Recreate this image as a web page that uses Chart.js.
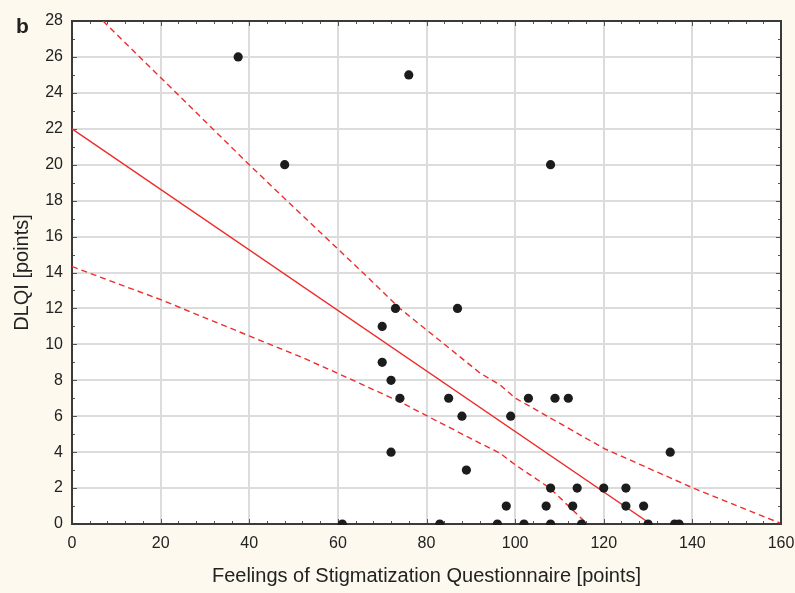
<!DOCTYPE html>
<html><head><meta charset="utf-8">
<script src="https://cdn.jsdelivr.net/npm/chart.js@4.4.1/dist/chart.umd.min.js"></script>
<style>html,body{margin:0;padding:0;background:#fdf9ee;} #wrap{width:795px;height:593px;position:relative;}</style>
</head><body><div id="wrap"><canvas id="c" width="795" height="593"></canvas></div>
<script>
// Patient data: FSQ score vs DLQI
const fsqScores  = [37.5, 48, 76, 108, 70, 73, 87, 70, 72, 74, 85, 88, 99, 72, 89, 103, 109, 112, 135, 61, 83, 96, 102, 108, 115, 130, 136, 137, 98, 107, 113, 125, 129, 108, 114, 120, 125];
const dlqiScores = [26,   20, 25, 20,  11, 12, 12, 9,  8,  7,  7,  6,  6,  4,  3,  7,   7,   7,   4,   0,  0,  0,  0,   0,   0,   0,   0,   0,   1,  1,   1,   1,   1,   2,   2,   2,   2];
// Regression line
const fitX = [0, 130.6];
const fitY = [22, 0];
// 95% confidence band
const upperX = [7, 40, 48.3, 67.3, 74, 92.1, 96.6, 100.1, 120.1, 140.2, 159.8];
const upperY = [28, 20, 18.04, 13.6, 12, 8.4, 7.74, 7.0, 4.2, 2.0, 0.05];
const lowerX = [0, 19.9, 40, 51.5, 60.5, 74, 92.1, 96.6, 100.1, 107.9, 116.1];
const lowerY = [14.33, 12.5, 10.47, 9.32, 8.33, 6.8, 4.49, 3.94, 3.28, 1.99, 0.04];
// Axes
const xTicks = [0, 20, 40, 60, 80, 100, 120, 140, 160];
const yTicks = [0, 2, 4, 6, 8, 10, 12, 14, 16, 18, 20, 22, 24, 26, 28];
const xTitle = 'Feelings of Stigmatization Questionnaire [points]';
const yTitle = 'DLQI [points]';
const panelLabel = 'b';

const zip = (xs, ys) => xs.map((x, i) => ({x: x, y: ys[i]}));
const RED = '#ee2c2c';
const FONT = "'Liberation Sans', Arial, sans-serif";

const framePlugin = {
  id: 'frame',
  beforeDraw(chart) {
    const {ctx, chartArea: a} = chart;
    ctx.save();
    ctx.fillStyle = '#fdf9ee';
    ctx.fillRect(0, 0, chart.width, chart.height);
    ctx.fillStyle = '#ffffff';
    ctx.fillRect(a.left, a.top, a.right - a.left, a.bottom - a.top);
    ctx.restore();
  },
  beforeDatasetsDraw(chart) {
    const {ctx, chartArea: a, scales} = chart;
    const xs = scales.x, ys = scales.y;
    ctx.save();
    ctx.strokeStyle = '#555555';
    ctx.lineWidth = 1;
    ctx.beginPath();
    for (let v = xTicks[0]; v <= xTicks[xTicks.length - 1]; v += 4) {
      const px = Math.round(xs.getPixelForValue(v)) + 0.5;
      const len = (v % 20 === 0) ? 5 : 3;
      ctx.moveTo(px, a.bottom); ctx.lineTo(px, a.bottom - len);
      ctx.moveTo(px, a.top); ctx.lineTo(px, a.top + len);
    }
    for (let v = yTicks[0]; v <= yTicks[yTicks.length - 1]; v += 1) {
      const py = Math.round(ys.getPixelForValue(v)) + 0.5;
      const len = (v % 2 === 0) ? 5 : 3;
      ctx.moveTo(a.left, py); ctx.lineTo(a.left + len, py);
      ctx.moveTo(a.right, py); ctx.lineTo(a.right - len, py);
    }
    ctx.stroke();
    ctx.strokeStyle = '#3a3a3a';
    ctx.lineWidth = 2;
    ctx.strokeRect(a.left, a.top, a.right - a.left, a.bottom - a.top);
    ctx.restore();
  },
  afterDraw(chart) {
    const {ctx} = chart;
    ctx.save();
    ctx.fillStyle = '#222222';
    ctx.font = "bold 21px " + FONT;
    ctx.textBaseline = 'alphabetic';
    ctx.fillText(panelLabel, 16, 33);
    ctx.restore();
  }
};

new Chart(document.getElementById('c'), {
  type: 'scatter',
  data: {
    datasets: [
      {label: 'patients', data: zip(fsqScores, dlqiScores), backgroundColor: '#1c1c1c', borderWidth: 0,
       pointRadius: 4.6, pointHoverRadius: 4.6, clip: 1, order: 0},
      {label: 'fit', data: zip(fitX, fitY), showLine: true, borderColor: RED, borderWidth: 1.4,
       pointRadius: 0, fill: false, clip: 0, order: 1},
      {label: 'upper', data: zip(upperX, upperY), showLine: true, borderColor: RED, borderWidth: 1.4,
       borderDash: [6, 4], pointRadius: 0, fill: false, clip: 0, order: 1},
      {label: 'lower', data: zip(lowerX, lowerY), showLine: true, borderColor: RED, borderWidth: 1.4,
       borderDash: [6, 4], pointRadius: 0, fill: false, clip: 0, order: 1}
    ]
  },
  options: {
    responsive: false,
    animation: false,
    devicePixelRatio: 1,
    layout: {padding: {top: 21, right: 14, left: 0, bottom: 0}},
    plugins: {legend: {display: false}, tooltip: {enabled: false}},
    scales: {
      x: {
        type: 'linear', min: 0, max: 160,
        afterBuildTicks(s) { s.ticks = xTicks.map(v => ({value: v})); },
        afterFit(s) { s.height = 69; s.paddingLeft = 0; s.paddingRight = 0; },
        grid: {color: '#dcdcdc', lineWidth: 2, drawTicks: false},
        border: {display: false},
        ticks: {color: '#222222', font: {family: FONT, size: 16}, padding: 10, maxRotation: 0},
        title: {display: true, text: xTitle, color: '#222222', font: {family: FONT, size: 20},
                padding: {top: 0, bottom: 5}}
      },
      y: {
        type: 'linear', min: 0, max: 28,
        afterBuildTicks(s) { s.ticks = yTicks.map(v => ({value: v})); },
        afterFit(s) { s.width = 72; s.paddingTop = 0; s.paddingBottom = 0; },
        grid: {color: '#dcdcdc', lineWidth: 2, drawTicks: false},
        border: {display: false},
        ticks: {color: '#222222', font: {family: FONT, size: 16}, padding: 9},
        title: {display: true, text: yTitle, color: '#222222', font: {family: FONT, size: 20},
                padding: {top: 10, bottom: 0}}
      }
    }
  },
  plugins: [framePlugin]
});
</script>
</body></html>
